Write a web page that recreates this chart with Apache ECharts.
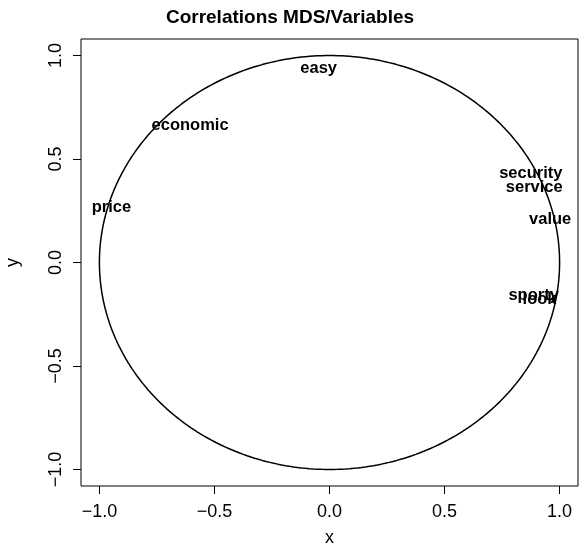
<!DOCTYPE html>
<html>
<head>
<meta charset="utf-8">
<script src="https://cdn.jsdelivr.net/npm/echarts@6/dist/echarts.min.js"></script>
<style>
  html, body { margin: 0; padding: 0; background: #fff; }
  #chart { width: 580px; height: 549px; }
</style>
</head>
<body>
<div id="chart"></div>
<script>
  // variable names and their coordinates on the correlation circle
  var varNames = ['easy', 'economic', 'price', 'security', 'service', 'value', 'sporty', 'look'];
  var varX = [-0.047, -0.606, -0.948, 0.875, 0.890, 0.959, 0.887, 0.913];
  var varY = [0.940, 0.663, 0.268, 0.432, 0.364, 0.208, -0.160, -0.179];
  var tickValues = [-1.0, -0.5, 0.0, 0.5, 1.0];

  // unit circle outline (geometry, not data)
  var circle = [];
  for (var i = 0; i <= 360; i++) {
    var a = i * Math.PI / 180;
    circle.push([Math.cos(a), Math.sin(a)]);
  }

  var points = varNames.map(function (n, i) { return [varX[i], varY[i], n]; });

  var fmt = function (v) { return v.toFixed(1).replace('-', '\u2212'); };
  var font = 'Liberation Sans, Arial, Helvetica, sans-serif';

  var chart = echarts.init(document.getElementById('chart'));
  chart.setOption({
    animation: false,
    title: {
      text: 'Correlations MDS/Variables',
      left: 'center',
      top: 3,
      textStyle: { fontFamily: font, fontSize: 19, fontWeight: 'bold', color: '#000' }
    },
    grid: {
      left: 81, right: 2, top: 39, bottom: 63,
      outerBoundsMode: 'none', containLabel: false,
      show: true, borderColor: '#000', borderWidth: 1
    },
    xAxis: {
      type: 'value', min: -1.08, max: 1.08,
      name: 'x', nameLocation: 'middle', nameGap: 43,
      nameTextStyle: { fontFamily: font, fontSize: 18, color: '#000' },
      splitLine: { show: false },
      axisLine: { show: false, onZero: false },
      axisTick: { show: true, length: 8, customValues: tickValues, lineStyle: { color: '#000' } },
      axisLabel: { customValues: tickValues, formatter: fmt, margin: 17,
        fontFamily: font, fontSize: 18, color: '#000' }
    },
    yAxis: {
      type: 'value', min: -1.08, max: 1.08,
      name: 'y', nameLocation: 'middle', nameGap: 59, nameRotate: 90,
      nameTextStyle: { fontFamily: font, fontSize: 18, color: '#000' },
      splitLine: { show: false },
      axisLine: { show: false, onZero: false },
      axisTick: { show: true, length: 8, customValues: tickValues, lineStyle: { color: '#000' } },
      axisLabel: { customValues: tickValues, formatter: fmt, rotate: 90, margin: 25,
        fontFamily: font, fontSize: 18, color: '#000', align: 'center', verticalAlign: 'middle' }
    },
    series: [
      {
        type: 'line',
        data: circle,
        showSymbol: false,
        lineStyle: { color: '#000', width: 1.5 },
        silent: true
      },
      {
        type: 'scatter',
        data: points,
        symbolSize: 1,
        itemStyle: { color: 'rgba(0,0,0,0)', opacity: 1 },
        label: {
          show: true,
          position: 'inside',
          formatter: function (p) { return p.value[2]; },
          fontFamily: font, fontSize: 16.5, fontWeight: 'bold', color: '#000'
        }
      }
    ]
  });
</script>
</body>
</html>
